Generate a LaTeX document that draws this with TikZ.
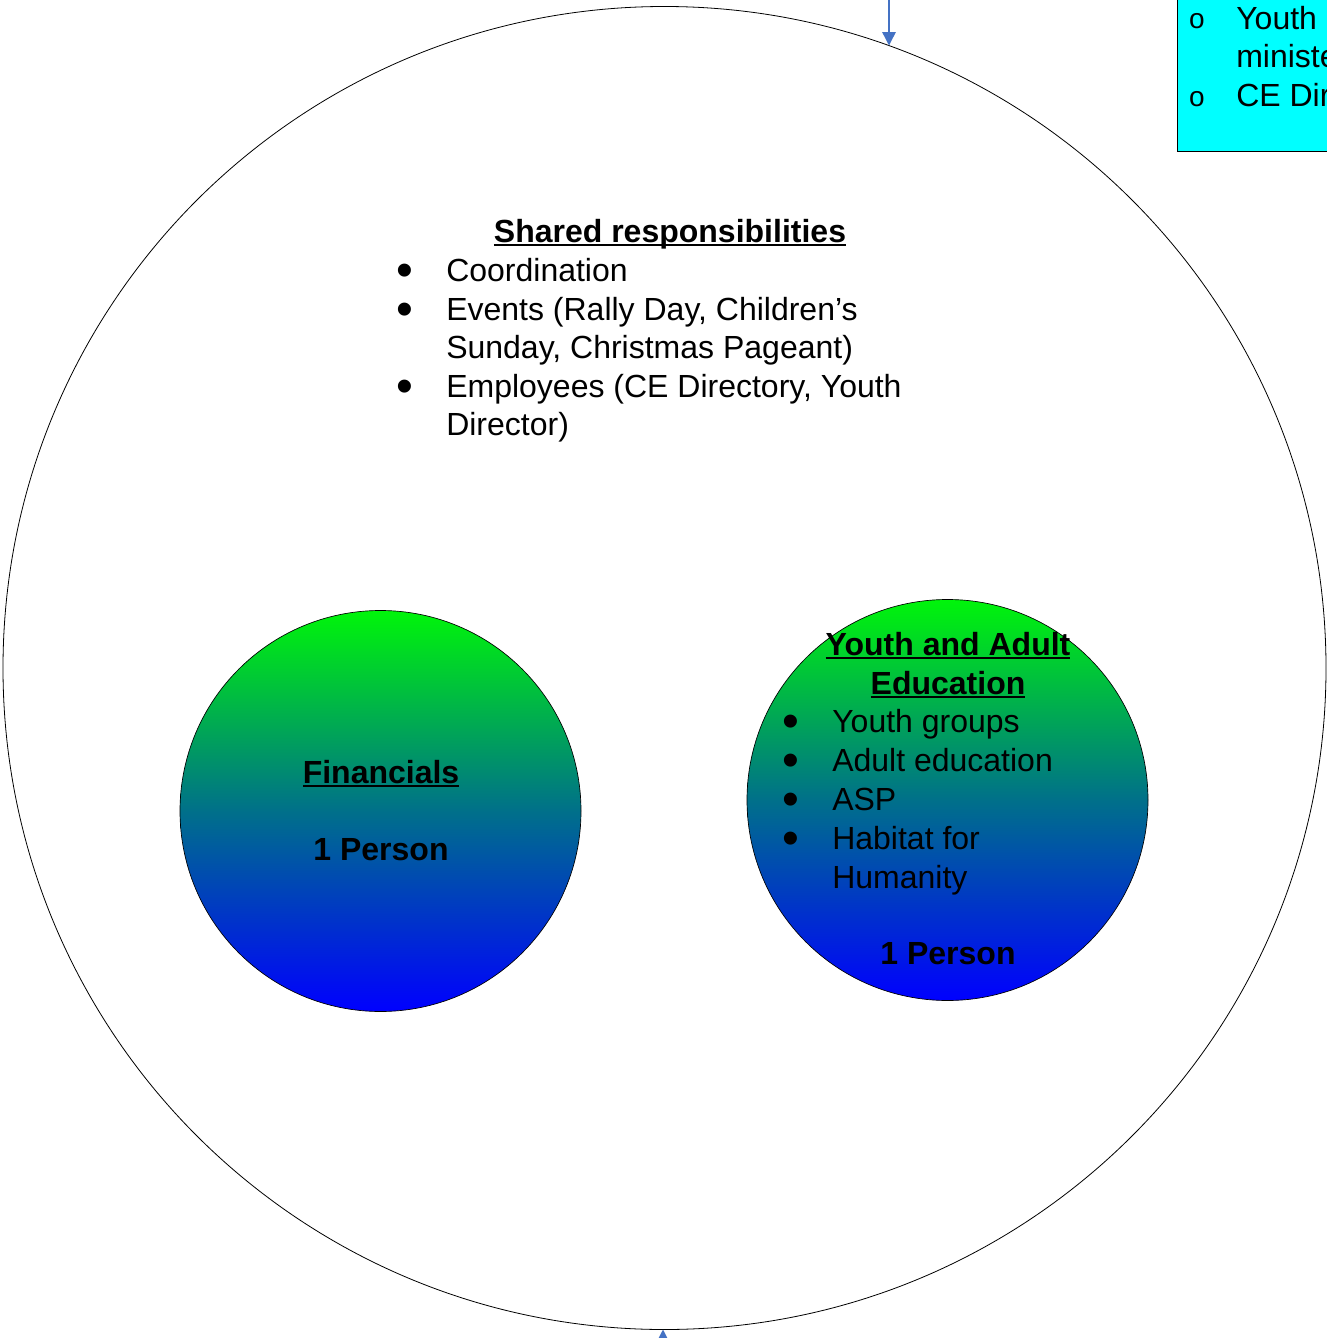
\documentclass[tikz,border=0pt]{standalone}
\usepackage{fontspec}
\setmainfont{Liberation Sans}
\usetikzlibrary{arrows.meta}
\definecolor{arrowblue}{RGB}{68,114,196}
\definecolor{midteal}{RGB}{0,112,138}
\definecolor{topgreen}{RGB}{0,245,10}
\definecolor{botblue}{RGB}{0,0,255}
\definecolor{boxcyan}{RGB}{0,255,255}
\newcommand\myul[1]{\setbox0\hbox{#1}\rlap{\rule[-3.2pt]{\wd0}{1.5pt}}\box0}
\newcommand\bigbul{\smash{\raisebox{-4pt}{\scalebox{1.5}{•}}}}
\begin{document}
\begin{tikzpicture}[x=0.75pt,y=-0.75pt,
  txt/.style={font=\fontsize{24}{29}\selectfont, inner sep=0pt, anchor=base west},
  ctxt/.style={txt, anchor=base},
  btxt/.style={ctxt, font=\fontsize{24}{29}\selectfont\bfseries},
  bul/.style={ctxt},
  obul/.style={ctxt, font=\fontsize{21}{25}\selectfont},
  arr/.style={draw=arrowblue, line width=1.1pt, -{Triangle[length=10pt,width=10pt]}, arrowblue},
  grad/.style={circle, draw=black, line width=0.5pt, inner sep=0pt, minimum size=300.75pt,
    top color=topgreen, bottom color=botblue, middle color=midteal}]
\useasboundingbox (0,0) rectangle (1327,1338);
\clip (0,0) rectangle (1327,1338);
\fill[white] (0,0) rectangle (1327,1338);

% outer circle
\node[circle, draw=black, line width=0.6pt, inner sep=0pt, minimum size=992.25pt] (outer) at (664.5,668) {};

% cyan box (partly outside)
\node[draw=black, line width=0.6pt, fill=boxcyan, anchor=south west, minimum width=180pt, minimum height=130pt, inner sep=0pt] (cebox) at (1177,152) {};
\node[obul] (cb1) at (1197,29) {o};
\node[txt] (ct1) at (1236,30) {Youth};
\node[txt] (ct2) at (1236,68) {minister};
\node[obul] (cb3) at (1197,106) {o};
\node[txt] (ct3) at (1236,107) {CE Director};

% arrows
\coordinate (topsrc) at (889,-20);
\coordinate (toptip) at (889,45.5);
\draw[arr] (topsrc) -- (toptip);
\coordinate (botsrc) at (663,1380);
\coordinate (bottip) at (663,1329.5);
\draw[arr] (botsrc) -- (bottip);

% shared responsibilities
\node[btxt] (sharedt) at (670,242) {\myul{Shared responsibilities}};
\node[bul] (sb1) at (405,281) {\bigbul};
\node[txt] (s1) at (446,281) {Coordination};
\node[bul] (sb2) at (405,320) {\bigbul};
\node[txt] (s2) at (446,320) {Events (Rally Day, Children’s};
\node[txt] (s2b) at (446,358) {Sunday, Christmas Pageant)};
\node[bul] (sb3) at (405,397) {\bigbul};
\node[txt] (s3) at (446,397) {Employees (CE Directory, Youth};
\node[txt] (s3b) at (446,435) {Director)};

% financials circle
\node[grad] (fin) at (380.5,811) {};
\node[btxt] (fint) at (381,783) {\myul{Financials}};
\node[btxt] (finp) at (381,860) {1 Person};

% youth circle
\node[grad] (yae) at (947.5,800) {};
\node[btxt] (yt1) at (948,655) {\myul{Youth and Adult}};
\node[btxt] (yt2) at (948,694) {\myul{Education}};
\node[bul] (yb1) at (791,732) {\bigbul};
\node[txt] (y1) at (832,732) {Youth groups};
\node[bul] (yb2) at (791,771) {\bigbul};
\node[txt] (y2) at (832,771) {Adult education};
\node[bul] (yb3) at (791,810) {\bigbul};
\node[txt] (y3) at (832,810) {ASP};
\node[bul] (yb4) at (791,849) {\bigbul};
\node[txt] (y4) at (832,849) {Habitat for};
\node[txt] (y4b) at (832,888) {Humanity};
\node[btxt] (yp) at (948,964) {1 Person};
\end{tikzpicture}
\end{document}
